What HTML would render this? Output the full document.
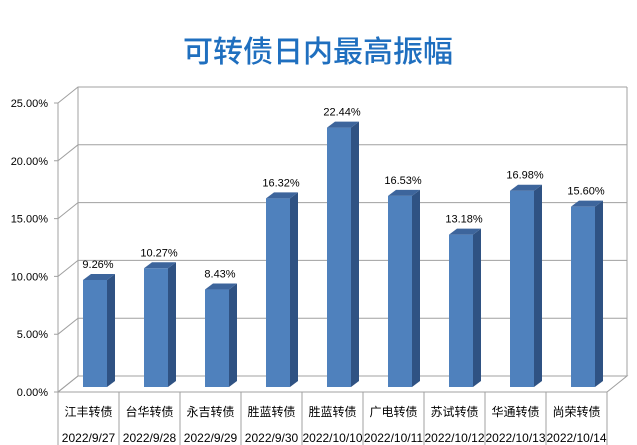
<!DOCTYPE html>
<html><head><meta charset="utf-8"><style>
body{margin:0;background:#fff;}
svg{display:block;font-family:"Liberation Sans","Noto Sans CJK SC",sans-serif;}
</style></head><body>
<svg id="c" width="637" height="445">
<text x="318" y="62" text-anchor="middle" font-size="30" font-weight="500" fill="#1f6fbf" font-family="'Noto Sans CJK SC',sans-serif">可转债日内最高振幅</text>
<g id="grid"></g><g id="bars"></g><g id="labels"></g>
</svg>
<script>
const categories=["江丰转债","台华转债","永吉转债","胜蓝转债","胜蓝转债","广电转债","苏试转债","华通转债","尚荣转债"];
const dates=["2022/9/27","2022/9/28","2022/9/29","2022/9/30","2022/10/10","2022/10/11","2022/10/12","2022/10/13","2022/10/14"];
const values=[9.26,10.27,8.43,16.32,22.44,16.53,13.18,16.98,15.60];
const ticks=[0,5,10,15,20,25];
const NS="http://www.w3.org/2000/svg";
const x0=58,x1=607,y0=392,pp=11.56,dx=20,dy=-16,catW=(x1-x0)/categories.length;
const fy=v=>y0-v*pp, by=v=>y0+dy-v*pp;
function mk(tag,attrs,parent,text){const e=document.createElementNS(NS,tag);for(const k in attrs)e.setAttribute(k,attrs[k]);if(text!==undefined)e.textContent=text;parent.appendChild(e);return e;}
const g=document.getElementById('grid'),b=document.getElementById('bars'),l=document.getElementById('labels');
mk('polygon',{points:`${x0},${y0} ${x0+dx},${y0+dy} ${x1+dx},${y0+dy} ${x1},${y0}`,fill:'#fff',stroke:'#a0a0a0'},g);
mk('line',{x1:x0+dx,y1:by(0),x2:x0+dx,y2:by(25),stroke:'#a0a0a0'},g);
mk('line',{x1:x1+dx,y1:by(0),x2:x1+dx,y2:by(25),stroke:'#a0a0a0'},g);
mk('line',{x1:x0,y1:fy(0),x2:x0,y2:fy(25),stroke:'#a0a0a0'},g);
ticks.forEach(t=>{
 const ln=mk('polyline',{points:`${x0-4},${fy(t)} ${x0},${fy(t)} ${x0+dx},${by(t)} ${x1+dx},${by(t)}`,fill:'none',stroke:'#a0a0a0'},g);
 
 
 const tx=mk('text',{x:x0-10,y:fy(t)+4,'text-anchor':'end','font-size':11,fill:'#000'},l,t.toFixed(2)+'%');
 
 
});
categories.forEach((c,i)=>{
 const cx=x0+i*catW;
 const sep=mk('line',{x1:cx,y1:y0,x2:cx,y2:445,stroke:'#a0a0a0'},g);
 
 
 const bx=cx+25,w=24,d=8,h=6,top=y0-5-values[i]*pp,base=y0-5;
 const grp=mk('g',{},b);
 
 
 mk('rect',{x:bx,y:top,width:w,height:base-top,fill:'#4f81bd'},grp);
 mk('polygon',{points:`${bx+w},${top} ${bx+w+d},${top-h} ${bx+w+d},${base-h} ${bx+w},${base}`,fill:'#2f5283'},grp);
 mk('polygon',{points:`${bx},${top} ${bx+d},${top-h} ${bx+w+d},${top-h} ${bx+w},${top}`,fill:'#3d659c'},grp);
 const vl=mk('text',{x:bx+w/2+3,y:top-12,'text-anchor':'middle','font-size':11},l,values[i].toFixed(2)+'%');
 
 
 const cl=mk('text',{x:cx+catW/2,y:416,'text-anchor':'middle','font-size':12},l,c);
 
 
 const dl=mk('text',{x:cx+catW/2,y:442,'text-anchor':'middle','font-size':12},l,dates[i]);
 
 
});
const last=mk('line',{x1:x1,y1:y0,x2:x1,y2:445,stroke:'#a0a0a0'},g);


</script>
</body></html>
